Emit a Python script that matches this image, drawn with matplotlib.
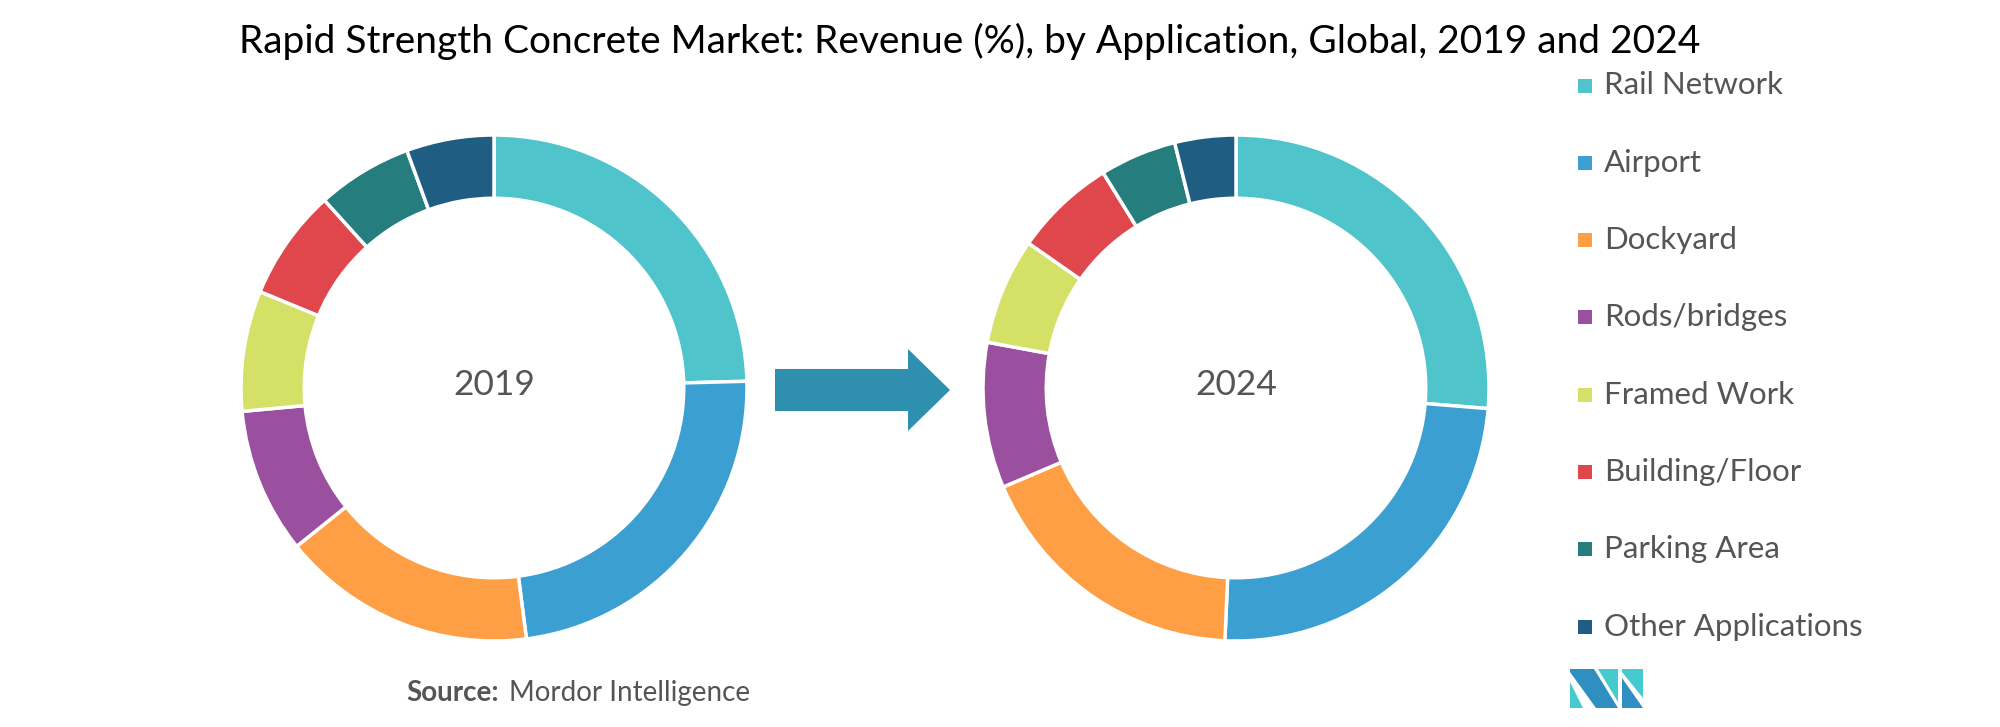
import matplotlib
matplotlib.use("Agg")
import matplotlib.pyplot as plt
from matplotlib.patches import Polygon

# ── Data ──
categories = ["Rail Network", "Airport", "Dockyard", "Rods/bridges",
              "Framed Work", "Building/Floor", "Parking Area", "Other Applications"]
share_2019 = [24.6, 23.4, 16.3, 9.3, 7.7, 7.1, 6.1, 5.6]
share_2024 = [26.3, 24.4, 17.9, 9.3, 6.8, 6.5, 4.9, 3.9]
colors = ["#4FC4CB", "#3C9FD1", "#FF9F45", "#9B4F9F",
          "#D4E066", "#E0474C", "#267D7D", "#1F5E82"]
years = ["2019", "2024"]

W, H = 2000, 727
TXT = "#555555"
plt.rcParams['font.family'] = ['Lato', 'DejaVu Sans']

fig = plt.figure(figsize=(W / 100, H / 100), dpi=100)

def px_axes(cx, cy, r):
    # axes box in figure fraction from pixel centre/radius (y from top)
    return [(cx - r) / W, (H - cy - r) / H, 2 * r / W, 2 * r / H]

centres = [(494, 388), (1236, 388)]
R = 253
for (cx, cy), vals, yr in zip(centres, [share_2019, share_2024], years):
    ax = fig.add_axes(px_axes(cx, cy, R))
    ax.pie(vals, colors=colors, startangle=90, counterclock=False, radius=1.0,
           wedgeprops=dict(width=0.25, edgecolor="white", linewidth=2.5))
    ax.set_xlim(-1, 1)
    ax.set_ylim(-1, 1)
    ax.set_aspect("equal")
    ax.axis("off")
    ax.text(0, 0.01, yr, ha="center", va="center", fontsize=25.5, color=TXT)

# overlay in pixel coordinates for arrow, legend, logo
ov = fig.add_axes([0, 0, 1, 1], zorder=-1)
ov.set_xlim(0, W)
ov.set_ylim(H, 0)
ov.axis("off")

arrow = [(775, 369), (908, 369), (908, 349), (950, 390),
         (908, 431), (908, 411), (775, 411)]
ov.add_patch(Polygon(arrow, closed=True, color="#2E8FAF", lw=0))

# title
fig.text(970 / W, 1 - 41 / H, "Rapid Strength Concrete Market: Revenue (%), by Application, Global, 2019 and 2024",
         ha="center", va="center", fontsize=28, color="black")

# legend
y0, dy = 85.5, 77.3
for i, (lab, c) in enumerate(zip(categories, colors)):
    y = y0 + i * dy
    ov.add_patch(Polygon([(1578, y - 7), (1592, y - 7), (1592, y + 7), (1578, y + 7)],
                         closed=True, color=c, lw=0))
    ov.text(1604, y, lab, ha="left", va="center", fontsize=22.5, color=TXT)

# source
ov.text(406, 693, "Source:", ha="left", va="center", fontsize=20, color=TXT, fontweight="bold")
ov.text(509, 693, "Mordor Intelligence", ha="left", va="center", fontsize=20, color=TXT)

# logo
dark, light = "#2E8FC0", "#45CBCF"
ov.add_patch(Polygon([(1570, 669), (1594, 669), (1618, 708), (1596, 708), (1570, 672)], color=dark, lw=0))
ov.add_patch(Polygon([(1570, 682), (1583, 708), (1570, 708)], color=light, lw=0))
ov.add_patch(Polygon([(1598, 669), (1618, 669), (1618, 702)], color=light, lw=0))
ov.add_patch(Polygon([(1622, 669), (1643, 669), (1643, 698), (1622, 672)], color=light, lw=0))
ov.add_patch(Polygon([(1622, 678), (1643, 708), (1622, 708)], color=dark, lw=0))

fig.savefig("out.png", dpi=100, facecolor="white")
